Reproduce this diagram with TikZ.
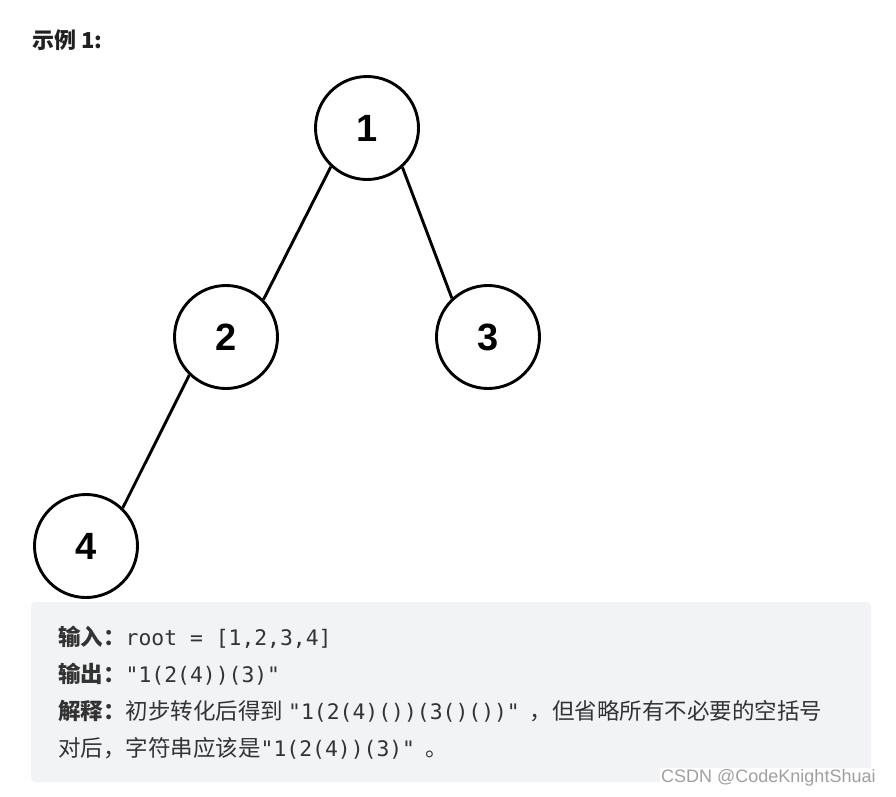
\documentclass[tikz,border=0pt]{standalone}
\usepackage{fontspec}
\setmainfont{Liberation Sans}
\setmonofont{DejaVu Sans Mono}[Scale=0.95]
\newfontfamily\cjk{Noto Sans CJK SC}
\usetikzlibrary{positioning}
\definecolor{boxgray}{HTML}{F2F3F5}
\definecolor{txtgray}{HTML}{333333}
\definecolor{markgray}{HTML}{A0A0A0}

\begin{document}
\begin{tikzpicture}[x=1pt,y=-1pt,
  treenode/.style={draw,circle,line width=2.9pt,minimum size=103pt,inner sep=0pt,
    font=\fontsize{38}{38}\selectfont\bfseries},
  treeedge/.style={line width=2.9pt},
  textline/.style={anchor=base west,inner sep=0pt,text=txtgray,
    font=\fontsize{22.5}{26}\selectfont\cjk}]
  \useasboundingbox (0,0) rectangle (896,796);
  % Title
  \node[anchor=base west,inner sep=0pt,text=black!87,
    font=\fontsize{22}{22}\selectfont\cjk\bfseries] (title) at (32,48) {示例 1:};
  % Example box
  \fill[boxgray,rounded corners=4pt] (31,602) rectangle (871,782);
  % Tree nodes
  \node[treenode] (n1) at (367,128) {1};
  \node[treenode] (n2) at (226,337) {2};
  \node[treenode] (n3) at (488,337) {3};
  \node[treenode] (n4) at (86,546) {4};
  % Edges
  \draw[treeedge] (n1.-133) -- (n2.45);
  \draw[treeedge] (n1.-48) -- (n3.133);
  \draw[treeedge] (n2.-134) -- (n4.46);
  % Text
  \node[textline] (lineA) at (58,645) {\textbf{输入：}\ttfamily root = [1,2,3,4]};
  \node[textline] (lineB) at (58,682) {\textbf{输出：}\ttfamily "1(2(4))(3)"};
  \node[textline] (lineC) at (58,719) {\textbf{解释：}初步转化后得到 \texttt{"1(2(4)())(3()())"} \ ，但省略所有不必要的空括号};
  \node[textline] (lineD) at (58,756) {对后，字符串应该是\texttt{"1(2(4))(3)"} \ 。};
  % Watermark
  \node[anchor=base west,inner sep=1pt,fill=white,text=markgray,
    font=\fontsize{18}{18}\selectfont] (mark) at (660,782) {CSDN @CodeKnightShuai};
\end{tikzpicture}
\end{document}
